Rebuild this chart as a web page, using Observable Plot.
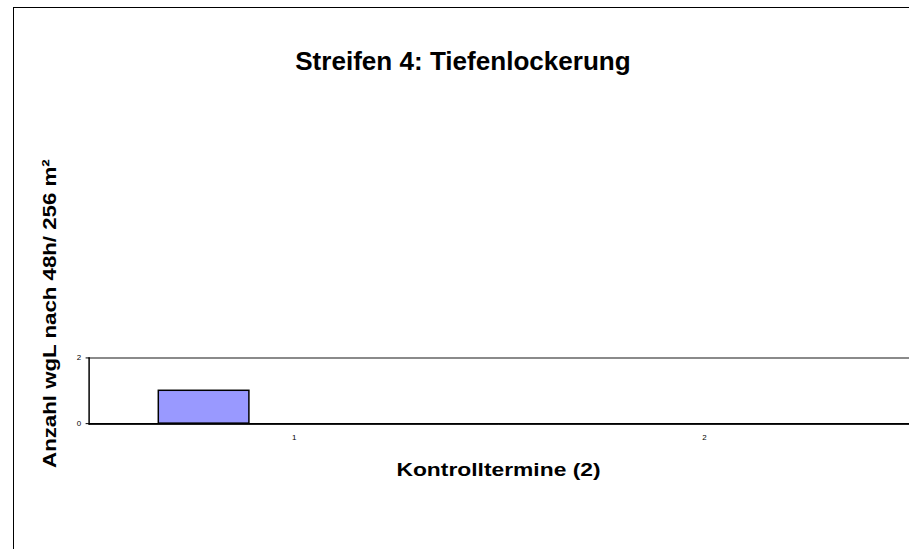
<!DOCTYPE html>
<html>
<head>
<meta charset="utf-8">
<script src="https://cdn.jsdelivr.net/npm/d3@7"></script>
<script src="https://cdn.jsdelivr.net/npm/@observablehq/plot@0.6"></script>
<style>
  html, body { margin: 0; padding: 0; background: #fff; overflow: hidden; }
  #wrap { position: relative; width: 909px; height: 549px; overflow: hidden; background: #fff;
          font-family: "Liberation Sans", Arial, sans-serif; }
  #border { position: absolute; left: 13px; top: 7px; width: 1000px; height: 1000px;
            border: 1px solid #000; box-sizing: border-box; pointer-events: none; }
  #chart { position: absolute; left: 0; top: 0; }
</style>
</head>
<body>
<div id="wrap">
  <div id="border"></div>
  <div id="chart"></div>
</div>
<script>
// ---- data ----
const categories = ["1", "2"];
const seriesNames = ["Reihe 1", "Reihe 2", "Reihe 3"];
const series1 = [1, 0];
const series2 = [0, 0];
const series3 = [0, 0];
const yTicks = [0, 2];
const titleText = "Streifen 4: Tiefenlockerung";
const xLabelText = "Kontrolltermine (2)";
const yLabelText = "Anzahl wgL nach 48h/ 256 m²";

const seriesValues = [series1, series2, series3];
const rows = [];
categories.forEach((c, i) => {
  seriesNames.forEach((s, j) => {
    rows.push({cat: c, series: s, value: seriesValues[j][i]});
  });
});

const font = "Liberation Sans, Arial, sans-serif";

const chart = Plot.plot({
  width: 913,
  height: 549,
  marginLeft: 89,
  marginRight: 0,
  marginTop: 359,
  marginBottom: 124,
  style: {fontFamily: font, background: "transparent", color: "#000"},
  fx: {domain: categories, padding: 0, label: null},
  x: {domain: seriesNames, paddingInner: 0, paddingOuter: 0.75, axis: null},
  y: {domain: [0, 2], label: null},
  marks: [
    Plot.barY(rows, {fx: "cat", x: "series", y: "value", fill: "#9999FF", stroke: "#000", strokeWidth: 1.5}),
    Plot.ruleY(rows, {fx: "cat", y: () => 2, stroke: "#8a8a8a", strokeWidth: 2}),
    Plot.ruleY(rows, {fx: "cat", y: () => 0, stroke: "#000", strokeWidth: 1.5}),
    Plot.frame({anchor: "left", fx: "1", stroke: "#000", strokeWidth: 1.5}),
    Plot.axisY({ticks: yTicks, tickSize: 3, tickPadding: 5, fontSize: 8, label: null, tickFormat: d => String(d)}),
    Plot.axisFx({anchor: "bottom", tickSize: 0, tickPadding: 11, fontSize: 8, label: null})
  ]
});

document.getElementById("chart").appendChild(chart);

const svg = d3.select(chart);
svg.append("text")
  .attr("x", 465).attr("y", 70)
  .attr("text-anchor", "middle")
  .attr("font-family", font).attr("font-weight", "bold").attr("font-size", 25)
  .attr("textLength", 337).attr("lengthAdjust", "spacingAndGlyphs")
  .attr("fill", "#000")
  .text(titleText);
svg.append("text")
  .attr("x", 500.7).attr("y", 478)
  .attr("text-anchor", "middle")
  .attr("font-family", font).attr("font-weight", "bold").attr("font-size", 18.6)
  .attr("textLength", 205).attr("lengthAdjust", "spacingAndGlyphs")
  .attr("fill", "#000")
  .text(xLabelText);
svg.append("text")
  .attr("transform", "translate(56.5,315) rotate(-90)")
  .attr("text-anchor", "middle")
  .attr("font-family", font).attr("font-weight", "bold").attr("font-size", 18.5)
  .attr("textLength", 310).attr("lengthAdjust", "spacingAndGlyphs")
  .attr("fill", "#000")
  .text(yLabelText);
</script>
</body>
</html>
